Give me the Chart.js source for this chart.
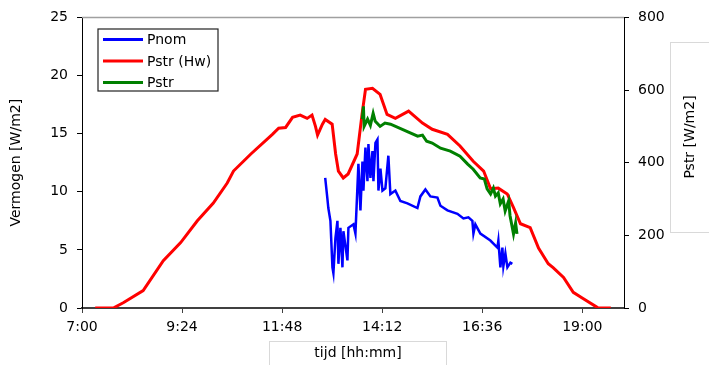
<!DOCTYPE html>
<html>
<head>
<meta charset="utf-8">
<script src="https://cdn.jsdelivr.net/npm/chart.js@4"></script>
<style>
  body { margin: 0; background: #fff; }
  canvas { display: block; }
</style>
</head>
<body>
<canvas id="chart" width="709" height="365"></canvas>
<script>
// time in minutes after midnight
const xTicks = [420, 564, 708, 852, 996, 1140];

const pnomTime = [770, 773, 774.5, 777.5, 780.4, 781.8, 784.7, 787.6, 789, 791.9, 794.8, 796.2, 802, 803.4, 810.6, 813.5, 817.8, 820.7, 823.6, 825, 827.9, 830.8, 832.2, 835.1, 838, 839.4, 842.3, 845.2, 846.6, 849.5, 852.4, 856.6, 860.9, 863.8, 871, 878.2, 888.3, 902.7, 907, 914.2, 921.4, 931.5, 935.8, 945.9, 960.3, 968.9, 976.1, 981.8, 983.3, 986.1, 993.3, 1007.7, 1017.8, 1019.2, 1022.1, 1025, 1026.4, 1029.3, 1032.2, 1036.5, 1039.3];
const pnomVal = [11.2, 9.5, 8.6, 7.5, 3.5, 3.0, 6.0, 7.5, 3.8, 6.9, 3.5, 6.6, 4.1, 6.9, 7.2, 6.4, 12.4, 8.4, 12.6, 10.1, 13.8, 10.9, 14.1, 11.2, 13.5, 10.9, 14.2, 14.5, 10.1, 12.0, 10.1, 10.3, 13.1, 9.8, 10.1, 9.2, 9.0, 8.6, 9.6, 10.2, 9.6, 9.5, 8.8, 8.4, 8.1, 7.7, 7.8, 7.5, 6.4, 7.2, 6.4, 5.8, 5.2, 5.8, 3.5, 5.2, 3.6, 4.7, 3.5, 3.9, 3.8];

const hwTime = [439, 465, 480, 508, 537, 562, 586, 609, 629, 638, 663, 694, 703, 713, 723, 734, 744, 751, 756, 759, 766, 770, 780, 785, 789, 796, 803, 816, 823, 828, 838, 849, 859, 871, 890, 910, 924, 946, 964, 983, 998, 1008, 1019, 1032, 1041, 1051, 1065, 1077, 1091, 1098, 1113, 1127, 1141, 1162, 1181];
const hwVal = [0, 0, 15, 48, 130, 180, 240, 289, 344, 377, 424, 478, 495, 497, 525, 531, 522, 531, 500, 476, 506, 519, 506, 424, 377, 358, 369, 424, 533, 602, 605, 588, 533, 522, 542, 509, 492, 478, 446, 404, 377, 328, 330, 314, 276, 232, 221, 165, 122, 111, 84, 43, 26, 1, 0];

const pstrTime = [823.5, 825, 826, 831, 835, 839, 842, 849, 856, 864, 903, 910, 916, 924, 936, 950, 964, 975, 983, 993, 999, 1003, 1008, 1012, 1015, 1019, 1022, 1026, 1029, 1034, 1036, 1041, 1044, 1046];
const pstrVal = [520, 555, 500, 520, 503, 536, 514, 500, 509, 506, 473, 476, 459, 454, 440, 432, 418, 396, 382, 358, 355, 328, 314, 330, 308, 317, 287, 300, 267, 295, 254, 204, 234, 204];

const legendItems = [
  { label: 'Pnom', color: '#0000ff' },
  { label: 'Pstr (Hw)', color: '#ff0000' },
  { label: 'Pstr', color: '#008000' }
];

function pts(t, v) {
  return t.map((x, i) => ({ x: x, y: v[i] }));
}

function fmtTime(v) {
  const h = Math.floor(v / 60);
  const m = Math.round(v % 60);
  return h + ':' + String(m).padStart(2, '0');
}

Chart.defaults.font.family = "'DejaVu Sans', sans-serif";
Chart.defaults.font.size = 14;
Chart.defaults.color = '#000';

const extras = {
  id: 'extras',
  afterDraw(chart) {
    const c = chart.ctx;
    const a = chart.chartArea;
    c.save();
    // top border
    c.strokeStyle = '#a0a0a0';
    c.lineWidth = 1.5;
    c.beginPath();
    c.moveTo(a.left, a.top);
    c.lineTo(a.right, a.top);
    c.stroke();

    // legend box
    c.strokeStyle = '#222';
    c.lineWidth = 1.2;
    c.fillStyle = '#fff';
    c.fillRect(98, 29, 120, 62);
    c.strokeRect(98, 29, 120, 62);
    c.font = "14px 'DejaVu Sans'";
    c.textBaseline = 'middle';
    c.textAlign = 'left';
    legendItems.forEach((it, i) => {
      const y = 39.5 + i * 21.5;
      c.strokeStyle = it.color;
      c.lineWidth = 3;
      c.beginPath();
      c.moveTo(103, y);
      c.lineTo(143, y);
      c.stroke();
      c.fillStyle = '#000';
      c.fillText(it.label, 147, y + 1);
    });

    // boxed axis titles
    c.strokeStyle = '#d9d9d9';
    c.lineWidth = 1;
    c.strokeRect(670.5, 42.5, 50, 190);
    c.strokeRect(269.5, 341.5, 177, 40);
    c.fillStyle = '#000';
    c.textAlign = 'center';
    c.fillText('tijd [hh:mm]', 358, 353);
    c.translate(690, 137);
    c.rotate(-Math.PI / 2);
    c.fillText('Pstr [W/m2]', 0, 0);
    c.restore();
  }
};

new Chart(document.getElementById('chart'), {
  type: 'line',
  data: {
    datasets: [
      { label: 'Pnom', data: pts(pnomTime, pnomVal), yAxisID: 'y', borderColor: '#0000ff', borderWidth: 2.5 },
      { label: 'Pstr', data: pts(pstrTime, pstrVal), yAxisID: 'y2', borderColor: '#008000', borderWidth: 3 },
      { label: 'Pstr (Hw)', data: pts(hwTime, hwVal), yAxisID: 'y2', borderColor: '#ff0000', borderWidth: 3 }
    ]
  },
  options: {
    responsive: false,
    animation: false,
    layout: { padding: { top: 16 } },
    elements: { point: { radius: 0 }, line: { tension: 0 } },
    plugins: { legend: { display: false }, tooltip: { enabled: false } },
    scales: {
      x: {
        type: 'linear',
        min: 420,
        max: 1200,
        afterBuildTicks: s => { s.ticks = xTicks.map(v => ({ value: v })); },
        afterFit: s => { s.height = 57; },
        ticks: { callback: v => fmtTime(v), padding: 6, maxRotation: 0 },
        grid: { drawOnChartArea: false, tickLength: 5, color: '#404040' },
        border: { color: '#404040', width: 2 }
      },
      y: {
        position: 'left',
        min: 0,
        max: 25,
        ticks: { stepSize: 5, padding: 9 },
        afterFit: s => { s.width = 82; },
        grid: { drawOnChartArea: false, tickLength: 5, color: '#000' },
        border: { color: '#000', width: 1 },
        title: { display: true, text: 'Vermogen [W/m2]', padding: { top: 8, bottom: 0 } }
      },
      y2: {
        position: 'right',
        min: 0,
        max: 800,
        ticks: { stepSize: 200, padding: 9 },
        afterFit: s => { s.width = 85; },
        grid: { drawOnChartArea: false, tickLength: 5, color: '#000' },
        border: { color: '#000', width: 1 }
      }
    }
  },
  plugins: [extras]
});
</script>
</body>
</html>
